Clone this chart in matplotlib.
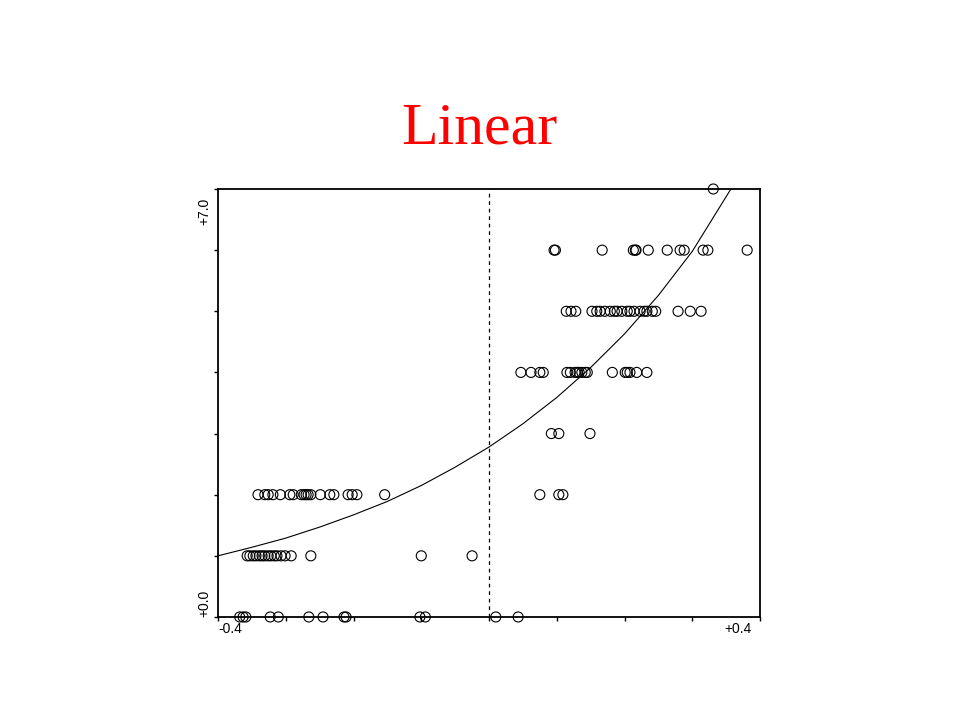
import numpy as np
import matplotlib.pyplot as plt

# observed points, one list of x values per outcome level (0..7)
rows = {
    0: [-0.368, -0.363, -0.359, -0.323, -0.311, -0.266, -0.245, -0.214, -0.211,
        -0.102, -0.094, 0.010, 0.043],
    1: [-0.357, -0.353, -0.348, -0.344, -0.339, -0.335, -0.331, -0.326, -0.322,
        -0.317, -0.313, -0.307, -0.301, -0.292, -0.263, -0.100, -0.025],
    2: [-0.341, -0.331, -0.326, -0.319, -0.308, -0.294, -0.289, -0.277, -0.273,
        -0.270, -0.267, -0.263, -0.249, -0.235, -0.229, -0.208, -0.202, -0.195,
        -0.154, 0.075, 0.103, 0.109],
    3: [0.092, 0.103, 0.149],
    4: [0.047, 0.062, 0.075, 0.080, 0.115, 0.120, 0.127, 0.130, 0.133, 0.137,
        0.142, 0.145, 0.182, 0.201, 0.204, 0.208, 0.218, 0.233],
    5: [0.114, 0.121, 0.128, 0.152, 0.159, 0.164, 0.171, 0.179, 0.185, 0.189,
        0.196, 0.204, 0.208, 0.214, 0.223, 0.229, 0.233, 0.241, 0.246, 0.279,
        0.297, 0.313],
    6: [0.096, 0.098, 0.167, 0.213, 0.216, 0.217, 0.235, 0.263, 0.282, 0.288,
        0.316, 0.323, 0.381],
    7: [0.331],
}

# fitted curve
curve_x = [-0.4, -0.35, -0.3, -0.25, -0.2, -0.15, -0.1, -0.05, 0.0,
           0.05, 0.1, 0.15, 0.2, 0.25, 0.3, 0.357]
curve_y = [1.00, 1.14, 1.29, 1.47, 1.67, 1.89, 2.15, 2.45, 2.78,
           3.16, 3.59, 4.08, 4.63, 5.26, 5.98, 7.0]

xs = []
ys = []
for level, vals in rows.items():
    xs += vals
    ys += [level] * len(vals)

fig = plt.figure(figsize=(9.6, 7.2), dpi=100)
ax = fig.add_axes([0.2271, 0.1431, 0.5646, 0.5944])

ax.scatter(xs, ys, s=52, facecolors='none', edgecolors='black',
           linewidths=0.8, clip_on=False, zorder=3)
ax.plot(curve_x, curve_y, color='black', lw=0.8)
ax.axvline(0, color='black', lw=0.9, linestyle=(0, (3, 3)))

ax.set_xlim(-0.4, 0.4)
ax.set_ylim(0, 7)
ax.set_xticks(np.arange(-0.4, 0.41, 0.1))
ax.set_yticks(range(0, 8))
ax.set_xticklabels([])
ax.set_yticklabels([])
ax.tick_params(direction='out', length=3, width=1)
for s in ax.spines.values():
    s.set_linewidth(1.3)

# end labels only, pulled inward like the original
lab = dict(fontsize=10, family='Liberation Sans', color='black')
ax.text(0.0, -0.012, '-0.4', transform=ax.transAxes, ha='left', va='top', **lab)
ax.text(0.985, -0.012, '+0.4', transform=ax.transAxes, ha='right', va='top', **lab)
ax.text(-0.012, 0.98, '+7.0', transform=ax.transAxes, ha='right', va='top',
        rotation=90, **lab)
ax.text(-0.012, 0.0, '+0.0', transform=ax.transAxes, ha='right', va='bottom',
        rotation=90, **lab)

fig.text(0.499, 0.82, 'Linear', color='red', fontsize=43,
         family='Liberation Serif', ha='center', va='center')

fig.savefig('out.png', dpi=100)
